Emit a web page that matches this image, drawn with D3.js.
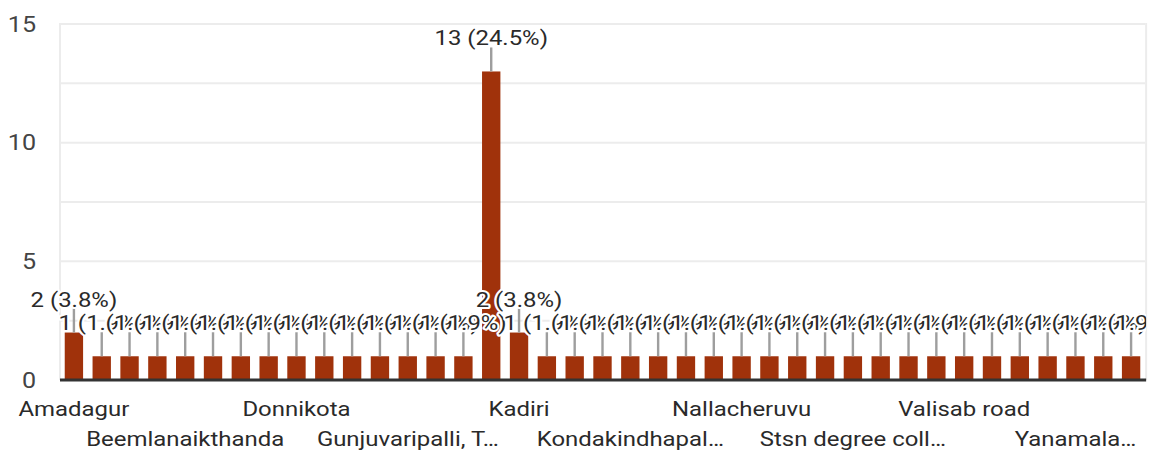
<!DOCTYPE html>
<html><head><meta charset="utf-8">
<script src="https://cdn.jsdelivr.net/npm/d3@7"></script>
<style>html,body{margin:0;padding:0;background:#fff;overflow:hidden}svg{display:block}</style>
</head><body><div id="chart"></div>
<script>
const categories = ["Amadagur","Bandlapalli","Batrepalli","Battalapalli","Beemlanaikthanda","Bodenaikthanda","Chennarayapalli","Chinnaganipalli","Donnikota","Erradoddi","Galiveedu","Gandlapenta","Gunjuvaripalli, T…","Guttapalli","Jogannapeta","KADIRI","Kadiri","Kalasamudram","Kokkanti","Kondakamarla","Kondakindhapal…","Kummaravandlapalli","Mudigubba","Mutyalacheruvu","Nallacheruvu","Nambulapulakunta","Obulareddypalli","Pulagampalli","Stsn degree coll…","Talupula","Tanakal","Thummalakunta","Valisab road","Vepalaparthi","Vidyanagar","Vodulavandlapalli","Yanamala…","Yerraguntapalli","Zilledupalli"];
const values = [2,1,1,1,1,1,1,1,1,1,1,1,1,1,1,13,2,1,1,1,1,1,1,1,1,1,1,1,1,1,1,1,1,1,1,1,1,1,1];
const yTicks = [0,5,10,15];
const gridValues = [2.5,5,7.5,10,12.5,15];
const shownLabelStep = 4;

const W = 1154, H = 452, SX = 1.14;     // reference is horizontally stretched
const IW = W / SX;
const mLeft = 60 / SX, mRight = 1145 / SX, mTop = 24, mBottom = 380;
const total = d3.sum(values);

const svg = d3.select("#chart").append("svg")
  .attr("width", W).attr("height", H)
  .attr("viewBox", `0 0 ${IW} ${H}`)
  .attr("preserveAspectRatio", "none")
  .style("font-family", "Roboto, Arial, sans-serif");

const x = d3.scaleBand().domain(d3.range(categories.length))
  .range([mLeft, mRight]).paddingInner(0.34).paddingOuter(0.17);
const y = d3.scaleLinear().domain([0, 15]).range([mBottom, mTop]);

svg.append("defs").append("clipPath").attr("id", "clip")
  .append("rect").attr("x", 0).attr("y", 0).attr("width", mRight + 1).attr("height", H);

// gridlines
svg.append("g").selectAll("line").data(gridValues).join("line")
  .attr("x1", mLeft).attr("x2", mRight)
  .attr("y1", d => y(d)).attr("y2", d => y(d))
  .attr("stroke", "#ececec").attr("stroke-width", 2);
svg.append("line").attr("x1", mLeft).attr("x2", mLeft).attr("y1", mTop - 1).attr("y2", mBottom)
  .attr("stroke", "#ececec").attr("stroke-width", 2 / SX);
svg.append("line").attr("x1", mRight + 1).attr("x2", mRight + 1).attr("y1", mTop - 1).attr("y2", mBottom)
  .attr("stroke", "#ececec").attr("stroke-width", 2 / SX);

// y axis
const yAxis = svg.append("g").attr("transform", `translate(${mLeft},0)`)
  .call(d3.axisLeft(y).tickValues(yTicks).tickSize(0).tickPadding(mLeft - 36 / SX));
yAxis.select(".domain").remove();
yAxis.selectAll("text").attr("font-size", 22).attr("fill", "#444")
  .attr("font-family", "Roboto, Arial, sans-serif");

// bars
svg.append("g").selectAll("rect").data(values).join("rect")
  .attr("x", (d, i) => x(i)).attr("width", x.bandwidth())
  .attr("y", d => y(d)).attr("height", d => y(0) - y(d))
  .attr("fill", "#a0320b");

// leader lines
svg.append("g").selectAll("line").data(values).join("line")
  .attr("x1", (d, i) => x(i) + x.bandwidth() / 2).attr("x2", (d, i) => x(i) + x.bandwidth() / 2)
  .attr("y1", d => y(d)).attr("y2", d => y(d) - 24)
  .attr("stroke", "#9e9e9e").attr("stroke-width", 2.4 / SX);

// baseline
svg.append("line").attr("x1", mLeft).attr("x2", mRight + 1).attr("y1", mBottom).attr("y2", mBottom)
  .attr("stroke", "#333").attr("stroke-width", 3);

// data labels
svg.append("g").attr("clip-path", "url(#clip)").selectAll("text").data(values).join("text")
  .attr("x", (d, i) => x(i) + x.bandwidth() / 2)
  .attr("y", d => y(d) - 26)
  .attr("text-anchor", "middle").attr("font-size", 21).attr("fill", "#2a2a2a")
  .attr("stroke", "#fff").attr("stroke-width", 4).attr("paint-order", "stroke")
  .attr("stroke-linejoin", "round")
  .text(d => `${d} (${(d / total * 100).toFixed(1)}%)`);

// x axis labels
const xAxis = svg.append("g").attr("transform", `translate(0,${mBottom})`)
  .call(d3.axisBottom(x)
    .tickValues(d3.range(0, categories.length, shownLabelStep))
    .tickFormat(i => categories[i]).tickSize(0).tickPadding(0));
xAxis.select(".domain").remove();
xAxis.selectAll("text").attr("font-size", 21).attr("fill", "#2a2a2a")
  .attr("font-family", "Roboto, Arial, sans-serif")
  .attr("dy", null)
  .attr("y", d => (d / shownLabelStep) % 2 === 0 ? 36 : 66);
</script></body></html>
